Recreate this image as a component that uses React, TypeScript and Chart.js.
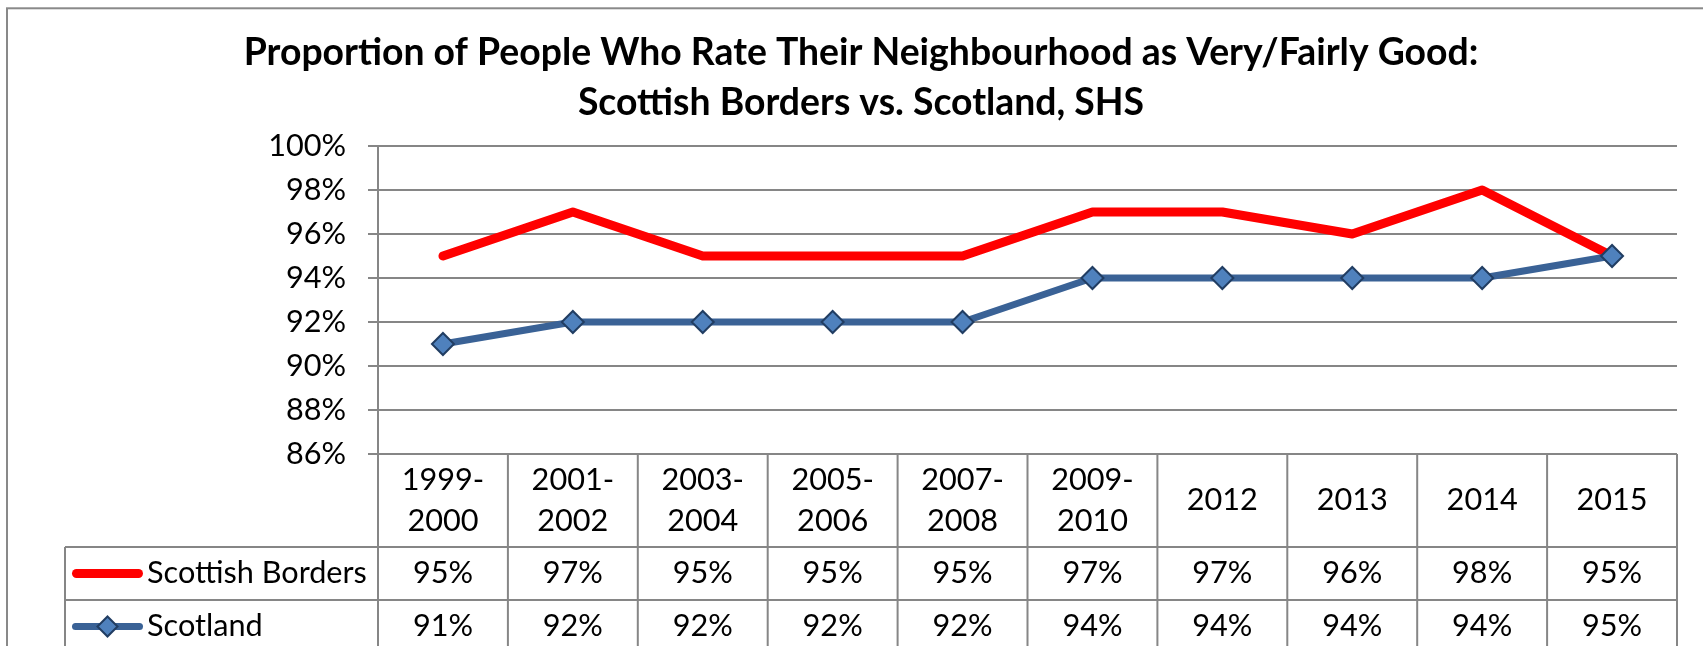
import React, { useEffect, useRef } from "react";
import { Chart, registerables } from "chart.js";

Chart.register(...registerables);

// ---- data ----
const titleLines = [
  "Proportion of People Who Rate Their Neighbourhood as Very/Fairly Good:",
  "Scottish Borders vs. Scotland, SHS",
];
const categories: string[][] = [
  ["1999-", "2000"],
  ["2001-", "2002"],
  ["2003-", "2004"],
  ["2005-", "2006"],
  ["2007-", "2008"],
  ["2009-", "2010"],
  ["2012"],
  ["2013"],
  ["2014"],
  ["2015"],
];
const seriesNames = ["Scottish Borders", "Scotland"];
const bordersValues = [95, 97, 95, 95, 95, 97, 97, 96, 98, 95];
const scotlandValues = [91, 92, 92, 92, 92, 94, 94, 94, 94, 95];
const yMin = 86;
const yMax = 100;
const yStep = 2;

const FAMILY = "Lato, 'Open Sans', sans-serif";
const GRID = "#868686";

export default function App() {
  const ref = useRef<HTMLCanvasElement>(null);

  useEffect(() => {
    const canvas = ref.current!;
    const mctx = document.createElement("canvas").getContext("2d")!;
    const fit = (text: string, weight: string, target: number) => {
      mctx.font = `${weight} 100px ${FAMILY}`;
      return (100 * target) / mctx.measureText(text).width;
    };
    const titleSize = fit(titleLines[0], "bold", 1235);
    const bodySize = fit(seriesNames[0], "normal", 220);

    const frame = {
      id: "frame",
      beforeDraw(chart: any) {
        const ctx = chart.ctx;
        ctx.save();
        ctx.fillStyle = "#ffffff";
        ctx.fillRect(0, 0, chart.width, chart.height);
        ctx.strokeStyle = "#898989";
        ctx.lineWidth = 2;
        ctx.strokeRect(7, 8.3, 4000, 4000);
        ctx.restore();
      },
    };

    const dataTable = {
      id: "dataTable",
      afterDraw(chart: any) {
        const ctx = chart.ctx;
        const area = chart.chartArea;
        const xs = chart.scales.x;
        const n = chart.data.labels.length;
        const centers: number[] = [];
        for (let i = 0; i < n; i++) centers.push(xs.getPixelForValue(i));
        const half = n > 1 ? (centers[1] - centers[0]) / 2 : (area.right - area.left) / 2;
        const bounds = [area.left];
        for (let i = 0; i < n; i++) bounds.push(centers[i] + half);
        bounds[n] = area.right;

        const top = area.bottom;
        const headerH = 93;
        const rowH = 53;
        const legendLeft = 65;
        const bottom = chart.height + 20;

        ctx.save();
        ctx.strokeStyle = GRID;
        ctx.lineWidth = 2;
        ctx.beginPath();
        for (const b of bounds) {
          ctx.moveTo(b, top);
          ctx.lineTo(b, bottom);
        }
        ctx.moveTo(legendLeft, top + headerH);
        ctx.lineTo(legendLeft, bottom);
        const nRows = chart.data.datasets.length;
        for (let r = 0; r <= nRows; r++) {
          const y = top + headerH + r * rowH;
          ctx.moveTo(legendLeft, y);
          ctx.lineTo(area.right, y);
        }
        ctx.stroke();

        ctx.fillStyle = "#000";
        ctx.textAlign = "center";
        ctx.textBaseline = "middle";
        ctx.font = `normal ${bodySize}px ${FAMILY}`;
        const headMid = top + headerH / 2;
        chart.data.labels.forEach((lab: any, i: number) => {
          const lines = Array.isArray(lab) ? lab : [lab];
          const spacing = 41;
          lines.forEach((t: string, k: number) => {
            const y = headMid + (k - (lines.length - 1) / 2) * spacing;
            ctx.fillText(t, centers[i], y);
          });
        });

        // rows in the dataset index order
        chart.data.datasets.forEach((ds: any, r: number) => {
          const mid = top + headerH + r * rowH + rowH / 2;
          ds.data.forEach((v: number, i: number) => {
            ctx.fillText(`${v}%`, centers[i], mid);
          });
          // legend key
          const x0 = 72;
          const x1 = 143;
          const w = ds.borderWidth;
          ctx.save();
          ctx.strokeStyle = ds.borderColor;
          ctx.lineWidth = w;
          ctx.lineCap = "round";
          ctx.beginPath();
          ctx.moveTo(x0 + w / 2, mid);
          ctx.lineTo(x1 - w / 2, mid);
          ctx.stroke();
          if (ds.pointRadius > 0) {
            const cx = (x0 + x1) / 2;
            const rad = ds.pointRadius - 1;
            ctx.beginPath();
            ctx.moveTo(cx, mid - rad);
            ctx.lineTo(cx + rad, mid);
            ctx.lineTo(cx, mid + rad);
            ctx.lineTo(cx - rad, mid);
            ctx.closePath();
            ctx.fillStyle = ds.pointBackgroundColor;
            ctx.fill();
            ctx.lineWidth = ds.pointBorderWidth;
            ctx.strokeStyle = ds.pointBorderColor;
            ctx.lineCap = "butt";
            ctx.lineJoin = "miter";
            ctx.stroke();
          }
          ctx.restore();
          ctx.fillStyle = "#000";
          ctx.textAlign = "left";
          ctx.fillText(ds.label, 147, mid);
          ctx.textAlign = "center";
        });
        ctx.restore();
      },
    };

    const chart = new Chart(canvas, {
      type: "line",
      data: {
        labels: categories,
        datasets: [
          {
            label: seriesNames[0],
            data: bordersValues,
            borderColor: "#FF0000",
            backgroundColor: "#FF0000",
            borderWidth: 9,
            borderCapStyle: "round",
            borderJoinStyle: "round",
            pointRadius: 0,
            pointHoverRadius: 0,
            tension: 0,
            order: 1,
          },
          {
            label: seriesNames[1],
            data: scotlandValues,
            borderColor: "#3A6296",
            backgroundColor: "#3A6296",
            borderWidth: 7,
            borderJoinStyle: "round",
            pointStyle: "rectRot",
            pointRadius: 11,
            pointHoverRadius: 11,
            pointBackgroundColor: "#4F81BD",
            pointBorderColor: "#213D62",
            pointBorderWidth: 2,
            tension: 0,
            order: 0,
          },
        ] as any,
      },
      options: {
        responsive: false,
        animation: false,
        devicePixelRatio: 1,
        layout: { padding: { left: 45, right: 26, top: 0, bottom: 192 } },
        plugins: {
          legend: { display: false },
          tooltip: { enabled: false },
          title: {
            display: true,
            text: titleLines,
            color: "#000",
            font: {
              family: FAMILY,
              weight: "bold",
              size: titleSize,
              lineHeight: 50 / titleSize,
            },
            padding: { top: 28, bottom: 18 },
          },
        },
        scales: {
          x: {
            type: "category",
            offset: true,
            display: false,
          },
          y: {
            min: yMin,
            max: yMax,
            afterFit(scale: any) {
              scale.width = 333;
            },
            ticks: {
              stepSize: yStep,
              padding: 22,
              color: "#000",
              font: { family: FAMILY, size: bodySize },
              callback: (v: any) => `${v}%`,
            },
            grid: {
              color: GRID,
              lineWidth: 2,
              tickLength: 10,
              drawTicks: true,
            },
            border: { display: true, color: GRID, width: 2 },
          },
        },
      },
      plugins: [frame, dataTable],
    } as any);

    return () => chart.destroy();
  }, []);

  return (
    <div
      style={{
        position: "absolute",
        left: 0,
        top: 0,
        width: 1703,
        height: 646,
        overflow: "hidden",
        background: "#fff",
      }}
    >
      <canvas
        ref={ref}
        width={1703}
        height={646}
        style={{ display: "block", width: 1703, height: 646 }}
      />
    </div>
  );
}
